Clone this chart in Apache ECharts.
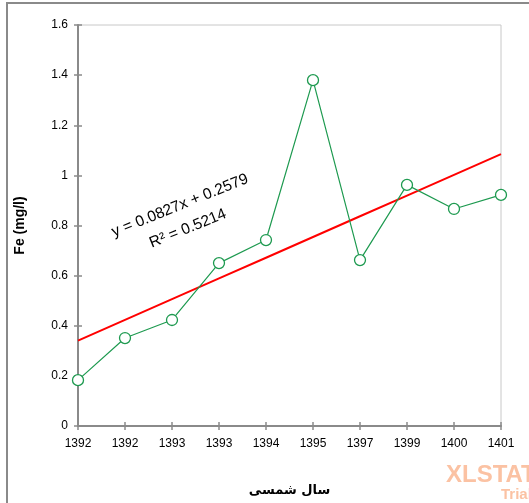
<!DOCTYPE html>
<html><head><meta charset="utf-8">
<script src="https://cdn.jsdelivr.net/npm/echarts@6/dist/echarts.min.js"></script>
<style>html,body{margin:0;padding:0;background:#fff}#c{width:529px;height:503px}</style>
</head><body><div id="c"></div>
<script>
var categories = ['1392','1392','1393','1393','1394','1395','1397','1399','1400','1401'];
var feValues = [0.183, 0.351, 0.423, 0.65, 0.742, 1.38, 0.662, 0.962, 0.866, 0.922];
var trendSlope = 0.0827;
var trendIntercept = 0.2579;
var yTicks = [0, 0.2, 0.4, 0.6, 0.8, 1, 1.2, 1.4, 1.6];

var trendData = categories.map(function(c, i){ return trendIntercept + trendSlope * (i + 1); });

var chart = echarts.init(document.getElementById('c'));
var font = 'Liberation Sans, Arial, sans-serif';
chart.setOption({
  animation: false,
  grid: {left: 78, right: 28, top: 25, bottom: 77, show: true, borderColor: '#c8c8c8', borderWidth: 1},
  xAxis: [{
    type: 'category', data: categories, boundaryGap: false,
    axisLine: {lineStyle: {color: '#8a8a8a', width: 2}},
    axisTick: {show: true, length: 4, alignWithLabel: true, lineStyle: {color: '#8a8a8a', width: 1.5}},
    axisLabel: {color: '#000', fontFamily: font, fontSize: 12, margin: 12, interval: 0},
    name: 'سال شمسی', nameLocation: 'middle', nameGap: 58,
    nameTextStyle: {fontFamily: 'DejaVu Sans, sans-serif', fontSize: 13, fontWeight: 'bold', color: '#000'}
  },{
    type: 'category', data: categories, boundaryGap: false, position: 'bottom',
    axisLine: {show: false},
    axisTick: {show: true, inside: true, length: 4, lineStyle: {color: '#8a8a8a', width: 1.5}},
    axisLabel: {show: false}
  }],
  yAxis: [{
    type: 'value', min: 0, max: 1.6, interval: 0.2,
    splitLine: {show: false},
    axisLine: {show: true, lineStyle: {color: '#8a8a8a', width: 2}},
    axisTick: {show: true, length: 4, lineStyle: {color: '#8a8a8a', width: 1.5}},
    axisLabel: {color: '#000', fontFamily: font, fontSize: 12, margin: 10,
      formatter: function(v){ var t = yTicks.filter(function(x){return Math.abs(x-v)<1e-6;}); return t.length ? String(parseFloat(v.toFixed(1))) : ''; }},
    name: 'Fe (mg/l)', nameLocation: 'middle', nameGap: 51, nameRotate: 90,
    nameTextStyle: {fontFamily: font, fontSize: 14, fontWeight: 'bold', color: '#000'}
  },{
    type: 'value', min: 0, max: 1.6, interval: 0.2, position: 'left',
    splitLine: {show: false}, axisLine: {show: false},
    axisTick: {show: true, inside: true, length: 4, lineStyle: {color: '#8a8a8a', width: 1.5}},
    axisLabel: {show: false}
  }],
  series: [{
    type: 'line', data: trendData, symbol: 'none', z: 3,
    lineStyle: {color: '#ff0000', width: 2}
  },{
    type: 'line', data: feValues, symbol: 'circle', symbolSize: 11, z: 4,
    lineStyle: {color: '#1e9a50', width: 1.2},
    itemStyle: {color: '#ffffff', borderColor: '#1e9a50', borderWidth: 1.3}
  }],
  graphic: [
    {type: 'rect', shape: {x: 7, y: 3, width: 700, height: 700}, style: {fill: 'none', stroke: '#8a8a8a', lineWidth: 2}, silent: true, z: -1},
    {type: 'text', x: 183, y: 213, rotation: 22 * Math.PI / 180,
      style: {text: 'y = 0.0827x + 0.2579', fontFamily: font, fontSize: 15.5, fill: '#000', textAlign: 'center', textVerticalAlign: 'bottom'}},
    {type: 'text', x: 191, y: 236, rotation: 22 * Math.PI / 180,
      style: {text: 'R² = 0.5214', fontFamily: font, fontSize: 15.5, fill: '#000', textAlign: 'center', textVerticalAlign: 'bottom'}},
    {type: 'text', left: 446, top: 463, style: {text: 'XLSTAT', fontFamily: font, fontSize: 24, fontWeight: 'bold', fill: '#fbc2a3'}},
    {type: 'text', left: 501, top: 487, style: {text: 'Trial', fontFamily: font, fontSize: 15, fontWeight: 'bold', fill: '#fbc2a3'}}
  ]
});
</script></body></html>
